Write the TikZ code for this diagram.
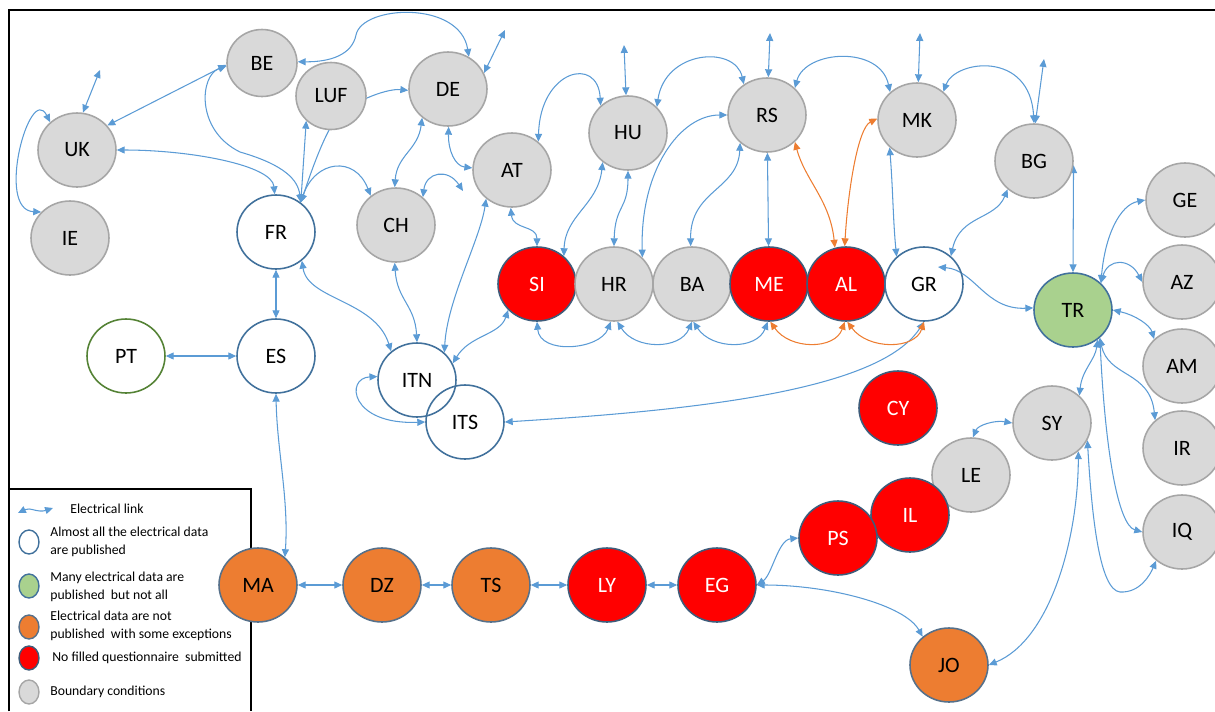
\documentclass[tikz,border=0pt]{standalone}
\usepackage{fontspec}
\setmainfont{Carlito}
\usepackage{xcolor}
\usepackage{tikz}
\usetikzlibrary{shapes.geometric, arrows.meta, positioning, calc}

\definecolor{linkblue}{HTML}{5B9BD5}
\definecolor{linkorange}{HTML}{ED7D31}
\definecolor{bdgray}{HTML}{D9D9D9}
\definecolor{bdedge}{HTML}{A6A6A6}
\definecolor{pubedge}{HTML}{41719C}
\definecolor{ptedge}{HTML}{548235}
\definecolor{manygreen}{HTML}{A9D18E}
\definecolor{orfill}{HTML}{ED7D31}
\definecolor{oredge}{HTML}{56708A}
\definecolor{redfill}{HTML}{FF0000}
\definecolor{rededge}{HTML}{3E5C7A}

\pgfdeclarelayer{background}
\pgfsetlayers{background,main}

\tikzset{
  country/.style={ellipse, minimum width=1.56cm, minimum height=1.48cm, inner sep=0pt,
    line width=0.9pt, font=\fontsize{12.5}{13}\selectfont},
  smallcountry/.style={minimum width=1.4cm, minimum height=1.34cm},
  boundary/.style={country, fill=bdgray, draw=bdedge},
  published/.style={country, draw=pubedge},
  many/.style={country, fill=manygreen, draw=pubedge},
  partial/.style={country, fill=orfill, draw=oredge},
  missing/.style={country, fill=redfill, draw=rededge, text=white},
  link/.style={draw=linkblue, line width=0.6pt,
    {Triangle[length=4.5pt,width=4pt]}-{Triangle[length=4.5pt,width=4pt]}},
  olink/.style={link, draw=linkorange},
  keydot/.style={ellipse, minimum width=0.4cm, minimum height=0.48cm, inner sep=0pt, line width=0.8pt},
  keytext/.style={anchor=west, align=left, inner sep=0pt, font=\fontsize{7.8}{10.2}\selectfont}
}

\begin{document}
\begin{tikzpicture}[x=0.02cm, y=-0.02cm]
\useasboundingbox (0,0) rectangle (1215,711);
% Frame and legend
\draw[line width=1.1pt] (9,711) -- (9,10) -- (1215,10);
\draw[line width=0.9pt] (9,711) -- (9,489) -- (251,489) -- (251,711);
\coordinate (lka) at (18,513);
\coordinate (lkb) at (53,508);
\node[keytext] (lklink) at (70,509) {Electrical link};
\node[keydot, draw=pubedge] (lgpub) at (29,542) {};
\node[keytext] (lkpub) at (50,542) {Almost all the electrical data\\are published};
\node[keydot, fill=manygreen, draw=pubedge] (lgmany) at (29,586) {};
\node[keytext] (lkmany) at (50,587) {Many electrical data are\\published\ \ but not all};
\node[keydot, fill=orfill, draw=oredge] (lgnot) at (29,627) {};
\node[keytext] (lknot) at (50,626) {Electrical data are not\\published\ \ with some exceptions};
\node[keydot, fill=redfill, draw=rededge] (lgnone) at (29,658) {};
\node[keytext] (lknone) at (52,658) {No filled questionnaire\ \ submitted};
\node[keydot, fill=bdgray, draw=bdedge] (lgbound) at (29,692) {};
\node[keytext] (lkbound) at (50,692) {Boundary conditions};

% Countries
\node[boundary] (UK) at (77,150) {UK};
\node[boundary] (IE) at (70,238) {IE};
\node[boundary, smallcountry] (BE) at (262,63) {BE};
\node[boundary, smallcountry] (LUF) at (331,96) {LUF};
\node[boundary] (DE) at (448,89) {DE};
\node[published] (FR) at (276,232) {FR};
\node[boundary] (CH) at (396,225) {CH};
\node[boundary] (AT) at (512,170) {AT};
\node[boundary] (HU) at (628,133) {HU};
\node[boundary] (RS) at (767,115) {RS};
\node[boundary] (MK) at (917,120) {MK};
\node[boundary] (BG) at (1034,161) {BG};
\node[missing] (SI) at (537,284) {SI};
\node[boundary] (HR) at (614,284) {HR};
\node[boundary] (BA) at (692,284) {BA};
\node[missing] (ME) at (769,284) {ME};
\node[missing] (AL) at (846,284) {AL};
\node[published] (GR) at (924,284) {GR};
\node[many] (TR) at (1073,310) {TR};
\node[boundary] (GE) at (1185,200) {GE};
\node[boundary] (AZ) at (1182,282) {AZ};
\node[boundary] (AM) at (1182,366) {AM};
\node[boundary] (IR) at (1182,448) {IR};
\node[boundary] (IQ) at (1182,532) {IQ};
\node[boundary] (SY) at (1052,423) {SY};
\node[boundary] (LE) at (971,475) {LE};
\node[missing] (IL) at (910,515) {IL};
\node[missing] (PS) at (838,538) {PS};
\node[missing] (CY) at (898,408) {CY};
\node[published, draw=ptedge] (PT) at (126,356) {PT};
\node[published] (ES) at (276,356) {ES};
\node[published] (ITN) at (417,380) {ITN};
\node[published] (ITS) at (465,422) {ITS};
\node[partial] (MA) at (258,585) {MA};
\node[partial] (DZ) at (382,585) {DZ};
\node[partial] (TS) at (491,585) {TS};
\node[missing] (LY) at (607,585) {LY};
\node[missing] (EG) at (717,585) {EG};
\node[partial] (JO) at (949,665) {JO};

% Free ends of links
\coordinate (ukup) at (100,70);
\coordinate (deup) at (505,30);
\coordinate (chright) at (463,191);
\coordinate (huup) at (624,45);
\coordinate (rsup) at (770,33);
\coordinate (mkup) at (920,33);
\coordinate (bgup) at (1044,59);
\coordinate (grin) at (938,267);

\begin{pgfonlayer}{background}
\draw[link] (lka) .. controls (30,507) and (38,513) .. (lkb);
% West
\draw[link] (UK.39) -- (BE.183);
\draw[link] (UK.81) -- (ukup);
\draw[link] (UK.134) .. controls (30,82) and (-5,210) .. (IE.138);
\draw[link] (UK.0) .. controls (190,150) and (272,165) .. (FR.92);
\draw[link] (BE.185) .. controls (200,75) and (195,130) .. (240,152) .. controls (285,165) and (298,180) .. (FR.50);
\draw[link] (LUF.225) -- (FR.50);
\draw[link] (FR.50) .. controls (315,160) and (325,135) .. (335,120) .. controls (345,105) and (385,88) .. (DE.182);
\draw[link] (FR.50) .. controls (315,160) and (355,155) .. (CH.131);
\draw[link] (BE.2) .. controls (330,62) and (352,55) .. (356,35) .. controls (362,5) and (460,0) .. (DE.57);
\draw[link] (DE.24) -- (deup);
\draw[link] (DE.228) .. controls (418,150) and (397,155) .. (CH.92);
\draw[link] (DE.271) .. controls (448,150) and (455,166) .. (AT.177);
\draw[link] (CH.46) .. controls (426,172) and (448,168) .. (chright);
\draw[link] (CH.268) .. controls (397,300) and (415,305) .. (ITN.90);
\draw[link] (AT.228) .. controls (480,240) and (447,300) .. (ITN.45);
\draw[link] (FR.312) .. controls (308,300) and (375,300) .. (ITN.132);
\draw[link] (ITN.25) .. controls (470,335) and (500,335) .. (SI.222);
\draw[link] (ITN.175) .. controls (345,378) and (350,425) .. (ITS.180);
\draw[link] (FR) -- (ES);
\draw[link] (PT) -- (ES);
\draw[link] (ES.270) .. controls (277,450) and (289,500) .. (MA.46);
\draw[link] (MA) -- (DZ);
\draw[link] (DZ) -- (TS);
\draw[link] (TS) -- (LY);
\draw[link] (LY) -- (EG);
\draw[link] (EG.0) .. controls (772,575) and (778,540) .. (PS.180);
\draw[link] (EG.0) .. controls (830,585) and (905,605) .. (JO.133);
\draw[link] (ITS.0) .. controls (700,410) and (880,390) .. (GR.270);
% Balkans
\draw[link] (SI.270) .. controls (540,355) and (600,350) .. (HR.265);
\draw[link] (HR.275) .. controls (635,350) and (680,350) .. (BA.270);
\draw[link] (BA.272) .. controls (712,350) and (757,350) .. (ME.268);
\draw[olink] (ME.272) .. controls (790,350) and (835,350) .. (AL.268);
\draw[olink] (AL.272) .. controls (868,350) and (915,350) .. (GR.270);
\draw[link] (RS) -- (ME);
\draw[olink] (RS.316) .. controls (805,180) and (830,200) .. (AL.107);
\draw[olink] (MK.178) .. controls (858,128) and (848,190) .. (AL.92);
\draw[link] (MK.225) .. controls (893,190) and (893,220) .. (GR.135);
\draw[link] (RS.226) .. controls (738,190) and (690,190) .. (BA.92);
\draw[link] (RS.180) .. controls (680,115) and (640,170) .. (HR.43);
\draw[link] (HU.270) .. controls (628,210) and (615,205) .. (HR.90);
\draw[link] (HU.229) .. controls (598,205) and (565,215) .. (SI.46);
\draw[link] (AT.268) .. controls (513,230) and (537,225) .. (SI.90);
\draw[link] (AT.47) .. controls (540,70) and (598,55) .. (HU.135);
\draw[link] (HU.93) -- (huup);
\draw[link] (HU.42) .. controls (665,50) and (735,45) .. (RS.127);
\draw[link] (RS.88) -- (rsup);
\draw[link] (RS.44) .. controls (805,50) and (880,45) .. (MK.134);
\draw[link] (MK.88) -- (mkup);
\draw[link] (MK.47) .. controls (955,60) and (1030,50) .. (BG.90);
\draw[link] (BG.88) -- (bgup);
\draw[link] (BG.227) .. controls (995,220) and (960,215) .. (GR.46);
\draw[link] (BG.354) -- (TR.90);
\draw[link] (grin) .. controls (975,270) and (985,310) .. (TR.177);
% East
\draw[link] (TR.44) .. controls (1105,235) and (1120,205) .. (GE.180);
\draw[link] (TR.44) .. controls (1108,258) and (1130,258) .. (AZ.180);
\draw[link] (TR.0) .. controls (1135,315) and (1150,325) .. (AM.136);
\draw[link] (TR.314) .. controls (1108,378) and (1150,370) .. (IR.134);
\draw[link] (TR.314) .. controls (1105,450) and (1118,525) .. (IQ.180);
\draw[link] (TR.310) .. controls (1095,360) and (1082,370) .. (SY.45);
\draw[link] (SY.180) .. controls (995,420) and (978,425) .. (LE.87);
\draw[link] (SY.313) .. controls (1078,540) and (1050,640) .. (JO.0);
\draw[link] (SY.334) .. controls (1092,520) and (1100,590) .. (1120,592) .. controls (1140,593) and (1150,575) .. (IQ.228);
\end{pgfonlayer}
\end{tikzpicture}
\end{document}
